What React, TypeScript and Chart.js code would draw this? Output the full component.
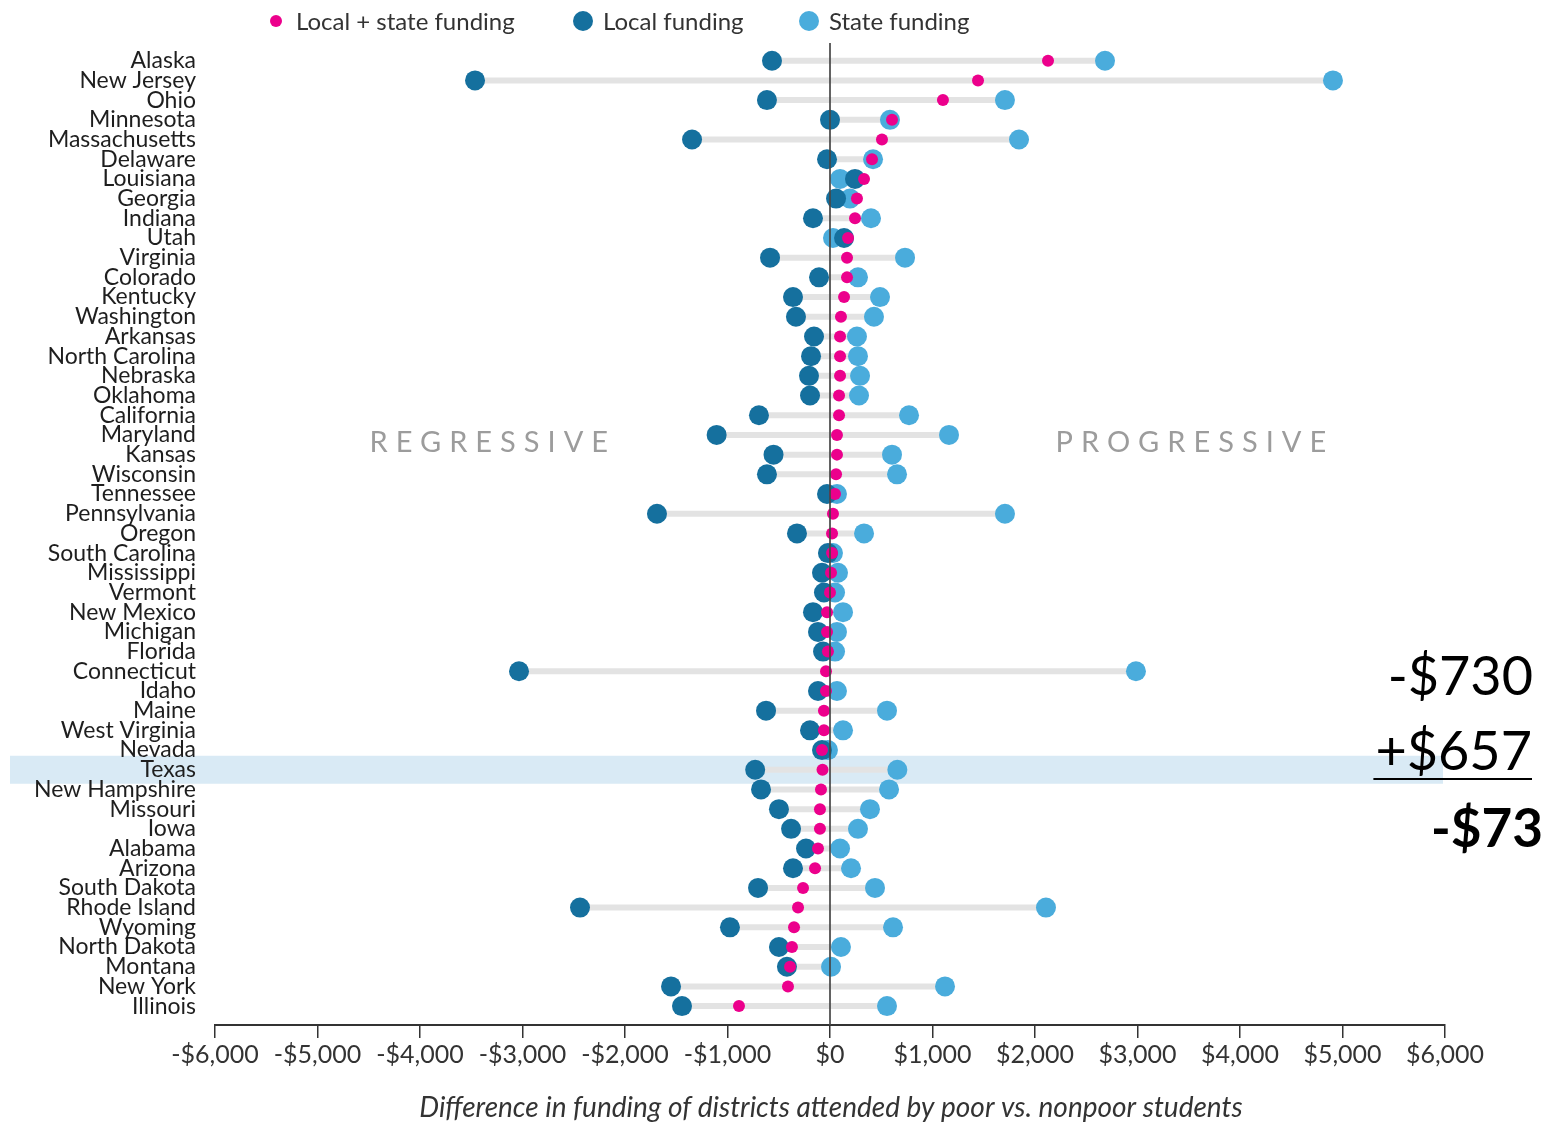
import React, { useEffect, useRef } from "react";
import { Chart, registerables } from "chart.js";

Chart.register(...registerables);

const states = [
  "Alaska", "New Jersey", "Ohio", "Minnesota", "Massachusetts", "Delaware", "Louisiana", "Georgia",
  "Indiana", "Utah", "Virginia", "Colorado", "Kentucky", "Washington", "Arkansas", "North Carolina",
  "Nebraska", "Oklahoma", "California", "Maryland", "Kansas", "Wisconsin", "Tennessee", "Pennsylvania",
  "Oregon", "South Carolina", "Mississippi", "Vermont", "New Mexico", "Michigan", "Florida", "Connecticut",
  "Idaho", "Maine", "West Virginia", "Nevada", "Texas", "New Hampshire", "Missouri", "Iowa",
  "Alabama", "Arizona", "South Dakota", "Rhode Island", "Wyoming", "North Dakota", "Montana", "New York",
  "Illinois",
];

const localFunding = [
  -566, -3463, -615, 0, -1346, -29, 244, 59,
  -166, 137, -585, -107, -361, -332, -156, -185,
  -205, -195, -693, -1106, -551, -615, -29, -1688,
  -322, -20, -78, -59, -166, -117, -68, -3034,
  -117, -624, -195, -78, -730, -673, -498, -380,
  -234, -361, -702, -2439, -976, -498, -420, -1551,
  -1444,
];

const stateFunding = [
  2683, 4907, 1707, 585, 1844, 420, 98, 195,
  400, 29, 732, 273, 488, 429, 263, 273,
  293, 283, 771, 1161, 605, 654, 68, 1707,
  332, 29, 78, 49, 127, 68, 49, 2985,
  68, 556, 127, -20, 657, 576, 390, 273,
  98, 205, 439, 2107, 615, 107, 10, 1122,
  556,
];

const combinedFunding = [
  2127, 1444, 1102, 605, 507, 410, 332, 263,
  244, 176, 166, 166, 137, 107, 98, 98,
  98, 88, 88, 68, 68, 59, 49, 29,
  20, 20, 10, 0, -29, -29, -20, -39,
  -39, -59, -59, -78, -73, -88, -98, -98,
  -117, -146, -263, -312, -351, -371, -390, -410,
  -888,
];

const xTickValues = [-6000, -5000, -4000, -3000, -2000, -1000, 0, 1000, 2000, 3000, 4000, 5000, 6000];

const legendItems = ["Local + state funding", "Local funding", "State funding"];
const highlightState = "Texas";
const sideLabels = ["REGRESSIVE", "PROGRESSIVE"];
const xTitle = "Difference in funding of districts attended by poor vs. nonpoor students";
const annotationLines = ["-$730", "+$657", "-$73"];

const COLOR_COMBINED = "#ec008c";
const COLOR_LOCAL = "#15709e";
const COLOR_STATE = "#4aacdc";
const FONT = "Lato";

function fmtMoney(v: number): string {
  const a = Math.abs(v).toLocaleString("en-US");
  return (v < 0 ? "-$" : "$") + a;
}

export default function App() {
  const canvasRef = useRef<HTMLCanvasElement | null>(null);

  useEffect(() => {
    const canvas = canvasRef.current;
    if (!canvas) return;

    const segments: { x: number; y: number }[] = [];
    states.forEach((_, i) => {
      segments.push({ x: localFunding[i], y: i });
      segments.push({ x: stateFunding[i], y: i });
      segments.push({ x: NaN, y: NaN });
    });

    const decorPlugin = {
      id: "decor",
      beforeDraw(chart: any) {
        const ctx = chart.ctx;
        const y = chart.scales.y;
        const idx = states.indexOf(highlightState);
        const yc = y.getPixelForValue(idx);
        ctx.save();
        ctx.fillStyle = "#d9eaf5";
        ctx.fillRect(10, yc - 14, chart.chartArea.right - 12, 28);
        ctx.restore();
      },
      afterDatasetsDraw(chart: any) {
        const ctx = chart.ctx;
        const x = chart.scales.x;
        const area = chart.chartArea;
        const x0 = x.getPixelForValue(0);
        ctx.save();
        ctx.strokeStyle = "rgba(70,70,70,0.85)";
        ctx.lineWidth = 2;
        ctx.beginPath();
        ctx.moveTo(x0, area.top);
        ctx.lineTo(x0, area.bottom);
        ctx.stroke();
        ctx.restore();
      },
      afterDraw(chart: any) {
        const ctx = chart.ctx;
        const x = chart.scales.x;
        const y = chart.scales.y;
        ctx.save();
        // legend
        ctx.textBaseline = "middle";
        ctx.textAlign = "left";
        ctx.font = `24px ${FONT}`;
        const legendX = [276, 583, 809];
        const legendR = [6, 10, 10];
        const legendC = [COLOR_COMBINED, COLOR_LOCAL, COLOR_STATE];
        legendItems.forEach((t, i) => {
          ctx.fillStyle = legendC[i];
          ctx.beginPath();
          ctx.arc(legendX[i], 21, legendR[i], 0, Math.PI * 2);
          ctx.fill();
          ctx.fillStyle = "#333";
          ctx.fillText(t, legendX[i] + 20, 22);
        });
        // side labels
        ctx.font = `29px ${FONT}`;
        ctx.fillStyle = "#9c9c9c";
        (ctx as any).letterSpacing = "8px";
        ctx.textAlign = "center";
        const ySide = y.getPixelForValue(19);
        ctx.fillText(sideLabels[0], x.getPixelForValue(-3300) + 1, ySide + 8);
        ctx.fillText(sideLabels[1], x.getPixelForValue(3530) + 3, ySide + 8);
        (ctx as any).letterSpacing = "0px";
        // x title
        ctx.font = `italic 28px ${FONT}`;
        ctx.fillStyle = "#333";
        ctx.fillText(xTitle, x.getPixelForValue(0) + 1, 1108);
        // annotation
        ctx.fillStyle = "#000";
        ctx.textAlign = "right";
        ctx.font = `54px ${FONT}`;
        ctx.fillText(annotationLines[0], 1533, 678);
        ctx.fillText(annotationLines[1], 1532, 753);
        const w = ctx.measureText(annotationLines[1]).width;
        ctx.fillRect(1532 - w - 2, 778, w + 2, 2);
        ctx.font = `bold 53px ${FONT}`;
        ctx.fillText(annotationLines[2], 1543, 830);
        ctx.restore();
      },
    };

    const chart = new Chart(canvas, {
      type: "scatter",
      data: {
        datasets: [
          {
            type: "line",
            label: "range",
            data: segments,
            borderColor: "#e3e3e3",
            borderWidth: 6,
            pointRadius: 0,
            spanGaps: false,
            order: 3,
          } as any,
          {
            label: legendItems[2],
            data: stateFunding.map((v, i) => ({ x: v, y: i })),
            pointRadius: 10,
            backgroundColor: COLOR_STATE,
            borderWidth: 0,
            order: 2,
          },
          {
            label: legendItems[1],
            data: localFunding.map((v, i) => ({ x: v, y: i })),
            pointRadius: 10,
            backgroundColor: COLOR_LOCAL,
            borderWidth: 0,
            order: 1,
          },
          {
            label: legendItems[0],
            data: combinedFunding.map((v, i) => ({ x: v, y: i })),
            pointRadius: 6,
            backgroundColor: COLOR_COMBINED,
            borderWidth: 0,
            order: 0,
          },
        ],
      },
      options: {
        animation: false,
        responsive: false,
        maintainAspectRatio: false,
        layout: { padding: { top: 43, right: 108, left: 0, bottom: 0 } },
        plugins: { legend: { display: false }, tooltip: { enabled: false } },
        scales: {
          x: {
            type: "linear",
            min: -6000,
            max: 6000,
            afterBuildTicks: (s: any) => {
              s.ticks = xTickValues.map((v) => ({ value: v }));
            },
            afterFit: (s: any) => {
              s.height = 100;
            },
            ticks: {
              callback: (v: any) => fmtMoney(Number(v)),
              font: { family: FONT, size: 25 },
              color: "#333",
              padding: 2,
              maxRotation: 0,
              autoSkip: false,
            },
            grid: {
              drawOnChartArea: false,
              drawTicks: true,
              tickLength: 13,
              color: "#333",
              lineWidth: 1.5,
            },
            border: { display: true, color: "#333", width: 2 },
          },
          y: {
            type: "linear",
            reverse: true,
            min: -0.9,
            max: 48.96,
            afterBuildTicks: (s: any) => {
              s.ticks = states.map((_, i) => ({ value: i }));
            },
            afterFit: (s: any) => {
              s.width = 215;
            },
            ticks: {
              callback: (v: any) => states[Number(v)] ?? "",
              font: { family: FONT, size: 23 },
              color: "#1e1e1e",
              padding: 19,
              autoSkip: false,
            },
            grid: { display: false, drawTicks: false },
            border: { display: false },
          },
        },
      },
      plugins: [decorPlugin],
    });

    return () => chart.destroy();
  }, []);

  return (
    <div style={{ position: "fixed", left: 0, top: 0, width: 1553, height: 1125, background: "#fff" }}>
      <canvas ref={canvasRef} width={1553} height={1125} style={{ width: 1553, height: 1125, display: "block" }} />
    </div>
  );
}
